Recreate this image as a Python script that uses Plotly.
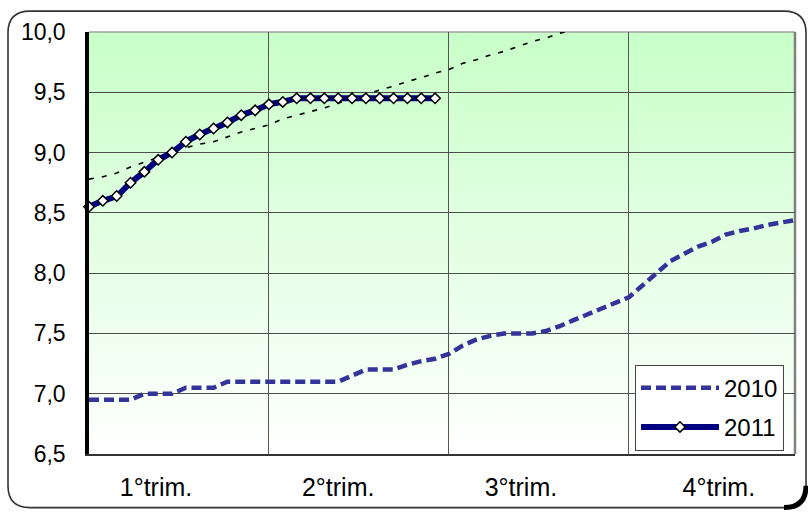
import base64
import plotly.graph_objects as go

# ---------------- data ----------------
weeks = list(range(52))

serie_2010 = [6.95, 6.95, 6.95, 6.95, 7.00, 7.00, 7.00, 7.05, 7.05, 7.05,
              7.10, 7.10, 7.10, 7.10, 7.10, 7.10, 7.10, 7.10, 7.10, 7.15,
              7.20, 7.20, 7.20, 7.24, 7.27, 7.29, 7.33, 7.40, 7.45, 7.48,
              7.50, 7.50, 7.50, 7.52, 7.56, 7.61, 7.66, 7.71, 7.75, 7.80,
              7.90, 8.00, 8.10, 8.16, 8.22, 8.26, 8.32, 8.35, 8.37, 8.40,
              8.42, 8.44]

serie_2011 = [8.55, 8.60, 8.64, 8.75, 8.84, 8.94, 9.00, 9.09, 9.15, 9.20,
              9.25, 9.31, 9.35, 9.40, 9.42, 9.45, 9.45, 9.45, 9.45, 9.45,
              9.45, 9.45, 9.45, 9.45, 9.45, 9.45]

serie_rif = [8.78, 8.80, 8.83, 8.88, 8.92, 8.96, 9.01, 9.04, 9.07, 9.09,
             9.13, 9.17, 9.20, 9.23, 9.28, 9.31, 9.34, 9.37, 9.41, 9.45,
             9.48, 9.52, 9.55, 9.59, 9.62, 9.66, 9.69, 9.74, 9.77, 9.81,
             9.84, 9.88, 9.92, 9.95, 9.99, 10.02]

quarter_bounds = [13, 26, 39]
tick_pos = [4.84, 18.0, 31.2, 45.5]
tick_labels = ["1°trim.", "2°trim.", "3°trim.", "4°trim."]

# ---------------- figure ----------------
W, H = 808, 513
ML, MR, MT, MB = 89, 13, 32, 56
PW, PH = W - ML - MR, H - MT - MB

FONT = "Arial, Liberation Sans, sans-serif"

fig = go.Figure()

fig.add_trace(go.Scatter(
    x=weeks[:len(serie_rif)], y=serie_rif, mode="lines", showlegend=False,
    line=dict(color="black", width=1.6, dash="5px,8px"), hoverinfo="skip"))

fig.add_trace(go.Scatter(
    x=weeks[:len(serie_2010)], y=serie_2010, mode="lines", name="2010",
    legendgroup="a",
    line=dict(color="#333399", width=4.5, dash="10px,5px")))

fig.add_trace(go.Scatter(
    x=weeks[:len(serie_2011)], y=serie_2011, mode="lines+markers", name="2011",
    legendgroup="b",
    line=dict(color="#000080", width=6, shape="spline", smoothing=0.6),
    marker=dict(symbol="diamond", size=8, color="white",
                line=dict(color="black", width=1.5)),
    cliponaxis=False))

# background gradient (plot area)
svg = ('<svg xmlns="http://www.w3.org/2000/svg" width="100" height="100" '
       'preserveAspectRatio="none"><defs><linearGradient id="g" x1="0" y1="0" '
       'x2="0" y2="1"><stop offset="0" stop-color="#C8FFC8"/>'
       '<stop offset="1" stop-color="#FFFFFF"/></linearGradient></defs>'
       '<rect width="100" height="100" fill="url(#g)"/></svg>')
svg_uri = "data:image/svg+xml;base64," + base64.b64encode(svg.encode()).decode()


def P(px, py):
    return (px - ML) / PW, (MT + PH - py) / PH


def pt(px, py):
    x, y = P(px, py)
    return f"{x:.5f},{y:.5f}"


L, T, R, B, r = 8, 11, 806, 511, 22
border = (f"M{pt(L + r, T)} L{pt(R - r, T)} Q{pt(R, T)} {pt(R, T + r)} "
          f"L{pt(R, B - r)} Q{pt(R, B)} {pt(R - r, B)} L{pt(L + r, B)} "
          f"Q{pt(L, B)} {pt(L, B - r)} L{pt(L, T + r)} Q{pt(L, T)} {pt(L + r, T)} Z")
corner = f"M{pt(R, B - r)} Q{pt(R, B)} {pt(R - r, B)}"

shapes = [
    dict(type="path", xref="paper", yref="paper", path=border,
         line=dict(color="#333333", width=1.6), layer="above"),
    dict(type="path", xref="paper", yref="paper", path=corner,
         line=dict(color="black", width=5), layer="above"),
    # plot area top & right border
    dict(type="line", xref="paper", yref="paper", x0=0, x1=1, y0=1, y1=1,
         line=dict(color="#A0A0A0", width=1.5), layer="below"),
    dict(type="line", xref="paper", yref="paper", x0=1, x1=1, y0=0, y1=1,
         line=dict(color="#808080", width=2.5), layer="below"),
]

fig.update_layout(
    width=W, height=H,
    margin=dict(l=ML, r=MR, t=MT, b=MB, pad=0),
    paper_bgcolor="white", plot_bgcolor="rgba(0,0,0,0)",
    separators=",.",
    font=dict(family=FONT, color="black", size=22),
    shapes=shapes,
    images=[dict(source=svg_uri, xref="paper", yref="paper", x=0, y=1,
                 sizex=1, sizey=1, sizing="stretch", xanchor="left",
                 yanchor="top", layer="below")],
    showlegend=True,
    legend=dict(x=(635 - ML) / PW, y=(MT + PH - 367) / PH, xanchor="left",
                yanchor="top", bgcolor="white", bordercolor="#444444",
                borderwidth=1, font=dict(family=FONT, size=24, color="black"),
                itemwidth=78, tracegroupgap=5),
)

fig.update_xaxes(
    range=[0, 51], tickmode="array", tickvals=tick_pos, ticktext=tick_labels,
    showgrid=False, ticks="", zeroline=False,
    showline=True, linecolor="#333333", linewidth=2,
    tickfont=dict(family=FONT, size=25, color="black"),
    ticklabelstandoff=10,
    minor=dict(tickmode="array", tickvals=quarter_bounds, showgrid=True,
               gridcolor="#555555", gridwidth=1, ticks=""),
)

fig.update_yaxes(
    range=[6.5, 10.0], dtick=0.5, tick0=6.5, tickformat=".1f",
    showgrid=True, gridcolor="#4D4D4D", gridwidth=1, zeroline=False,
    showline=True, linecolor="black", linewidth=3.5, ticks="",
    tickfont=dict(family=FONT, size=23, color="black"),
    ticklabelstandoff=15,
)

fig.write_html("out.html",
               config={"displayModeBar": False},
               post_script="document.body.style.margin='0';"
                           "document.body.style.overflow='hidden';")
